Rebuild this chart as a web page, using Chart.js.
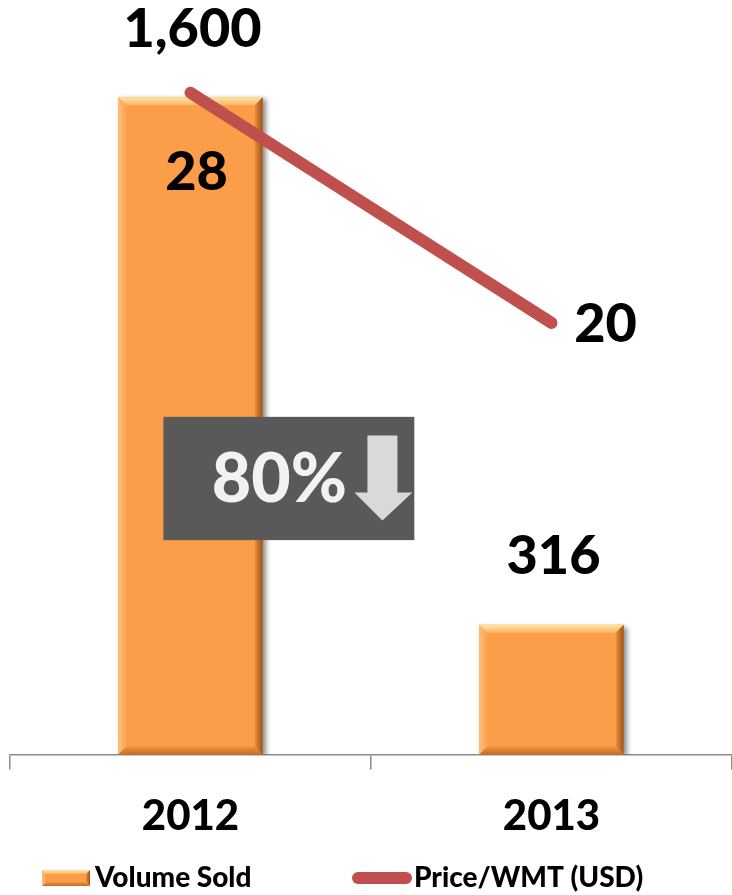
<!DOCTYPE html>
<html><head><meta charset="utf-8">
<script src="https://cdn.jsdelivr.net/npm/chart.js@4/dist/chart.umd.min.js"></script>
<style>html,body{margin:0;padding:0;background:#fff;overflow:hidden;}</style>
</head><body>
<canvas id="c" width="732" height="895"></canvas>
<script>
const categories = ['2012', '2013'];
const volumeSold = [1600, 316];
const pricePerWMT = [28, 20];
const seriesNames = ['Volume Sold', 'Price/WMT (USD)'];

const FONT = 'Lato, "Open Sans", sans-serif';
const BAR_COLOR = '#FB9D49';
const LINE_COLOR = '#C0504D';

// label placement (style config, not data)
const barLabelGap = 68;
const lineLabelOffsets = [{dx: 6, dy: 80}, {dx: 54, dy: 2}];

function poly(ctx, pts, fill) {
  ctx.beginPath();
  ctx.moveTo(pts[0][0], pts[0][1]);
  for (let i = 1; i < pts.length; i++) ctx.lineTo(pts[i][0], pts[i][1]);
  ctx.closePath();
  ctx.fillStyle = fill;
  ctx.fill();
}
function drawBevel(ctx, l, t, r, b, s) {
  let g = ctx.createLinearGradient(0, t, 0, t + s);
  g.addColorStop(0, '#FFE6A6'); g.addColorStop(1, '#FDB565');
  poly(ctx, [[l, t], [r, t], [r - s, t + s], [l + s, t + s]], g);
  g = ctx.createLinearGradient(l, 0, l + s, 0);
  g.addColorStop(0, '#FFBE78'); g.addColorStop(1, '#FBA24F');
  poly(ctx, [[l, t], [l + s, t + s], [l + s, b - s], [l, b]], g);
  g = ctx.createLinearGradient(r - s, 0, r, 0);
  g.addColorStop(0, '#EC8E3E'); g.addColorStop(1, '#9C5418');
  poly(ctx, [[r, t], [r, b], [r - s, b - s], [r - s, t + s]], g);
  g = ctx.createLinearGradient(0, b - s, 0, b);
  g.addColorStop(0, '#F09442'); g.addColorStop(1, '#C46C22');
  poly(ctx, [[l, b], [r, b], [r - s, b - s], [l + s, b - s]], g);
}

const barStylePlugin = {
  id: 'barStyle',
  beforeDatasetDraw(chart, args) {
    if (args.index !== 0) return;
    const ctx = chart.ctx;
    ctx.save();
    ctx.shadowColor = 'rgba(0,0,0,0.45)';
    ctx.shadowBlur = 5;
    ctx.shadowOffsetX = 3;
    ctx.shadowOffsetY = 2;
  },
  afterDatasetDraw(chart, args) {
    if (args.index !== 0) return;
    const ctx = chart.ctx;
    ctx.restore();
    ctx.save();
    args.meta.data.forEach(el => {
      const p = el.getProps(['x', 'y', 'width', 'base'], true);
      drawBevel(ctx, p.x - p.width / 2, p.y, p.x + p.width / 2, p.base, 8);
    });
    ctx.restore();
  }
};

const labelsPlugin = {
  id: 'valueLabels',
  afterDatasetsDraw(chart) {
    const ctx = chart.ctx;
    ctx.save();
    ctx.fillStyle = '#000';
    ctx.font = '900 54px ' + FONT;
    ctx.textAlign = 'center';
    ctx.textBaseline = 'middle';
    chart.getDatasetMeta(0).data.forEach((el, i) => {
      ctx.fillText(volumeSold[i].toLocaleString('en-US'), el.x + 2, el.y - barLabelGap);
    });
    chart.getDatasetMeta(1).data.forEach((el, i) => {
      const o = lineLabelOffsets[i];
      ctx.fillText(String(pricePerWMT[i]), el.x + o.dx, el.y + o.dy);
    });
    ctx.restore();
  }
};

const changePlugin = {
  id: 'changeBox',
  afterDatasetsDraw(chart) {
    const ctx = chart.ctx;
    const xs = chart.scales.x, ys = chart.scales.y;
    const c0 = xs.getPixelForValue(0);
    const cw = xs.getPixelForValue(1) - c0;
    const x0 = c0 - 0.075 * cw, x1 = c0 + 0.62 * cw;
    const y0 = ys.getPixelForValue(822), y1 = ys.getPixelForValue(522);
    ctx.save();
    ctx.fillStyle = '#595959';
    ctx.fillRect(x0, y0, x1 - x0, y1 - y0);
    const pct = Math.round((1 - volumeSold[1] / volumeSold[0]) * 100) + '%';
    ctx.fillStyle = '#F2F2F2';
    ctx.font = '900 68px ' + FONT;
    ctx.textAlign = 'center';
    ctx.textBaseline = 'middle';
    const cy = (y0 + y1) / 2;
    ctx.fillText(pct, x0 + 116, cy + 2);
    // down arrow
    const ax = x0 + 191, ay = cy - 43;
    ctx.fillStyle = '#D9D9D9';
    ctx.beginPath();
    ctx.moveTo(ax + 13, ay);
    ctx.lineTo(ax + 43, ay);
    ctx.lineTo(ax + 43, ay + 57);
    ctx.lineTo(ax + 58, ay + 57);
    ctx.lineTo(ax + 28, ay + 85);
    ctx.lineTo(ax, ay + 57);
    ctx.lineTo(ax + 13, ay + 57);
    ctx.closePath();
    ctx.fill();
    ctx.restore();
  }
};

const legendPlugin = {
  id: 'customLegend',
  afterDraw(chart) {
    const ctx = chart.ctx;
    const cy = chart.height - 17;
    ctx.save();
    drawBevel(ctx, 42, cy - 8, 90, cy + 8, 4);
    ctx.fillStyle = BAR_COLOR;
    ctx.fillRect(46, cy - 4, 40, 8);
    ctx.strokeStyle = LINE_COLOR;
    ctx.lineWidth = 12;
    ctx.lineCap = 'round';
    ctx.beginPath();
    ctx.moveTo(358, cy);
    ctx.lineTo(406, cy);
    ctx.stroke();
    ctx.fillStyle = '#000';
    ctx.font = '900 28px ' + FONT;
    ctx.textAlign = 'left';
    ctx.textBaseline = 'middle';
    ctx.fillText(chart.data.datasets[0].label, 95, cy);
    ctx.fillText(chart.data.datasets[1].label, 414, cy);
    ctx.restore();
  }
};

new Chart(document.getElementById('c'), {
  data: {
    labels: categories,
    datasets: [
      {
        type: 'bar',
        label: seriesNames[0],
        data: volumeSold,
        yAxisID: 'y',
        backgroundColor: BAR_COLOR,
        borderWidth: 0,
        barPercentage: 0.4,
        categoryPercentage: 1,
        order: 1
      },
      {
        type: 'line',
        label: seriesNames[1],
        data: pricePerWMT,
        yAxisID: 'y2',
        borderColor: LINE_COLOR,
        backgroundColor: LINE_COLOR,
        borderWidth: 12,
        borderCapStyle: 'round',
        pointRadius: 0,
        pointHoverRadius: 0,
        tension: 0,
        fill: false,
        order: 0
      }
    ]
  },
  options: {
    responsive: false,
    animation: false,
    devicePixelRatio: 1,
    layout: {padding: {top: 15, left: 10, right: 0, bottom: 31}},
    plugins: {legend: {display: false}, tooltip: {enabled: false}},
    scales: {
      x: {
        offset: true,
        grid: {offset: true, drawOnChartArea: false, tickLength: 15, color: '#8C8C8C', lineWidth: 1.5},
        border: {color: '#8C8C8C', width: 1.5},
        ticks: {color: '#000', padding: 22, font: {family: FONT, weight: '900', size: 42}}
      },
      y: {display: false, min: 0, max: 1800},
      y2: {display: false, min: 5, max: 30.7, position: 'right'}
    }
  },
  plugins: [barStylePlugin, labelsPlugin, changePlugin, legendPlugin]
});
</script>
</body></html>
